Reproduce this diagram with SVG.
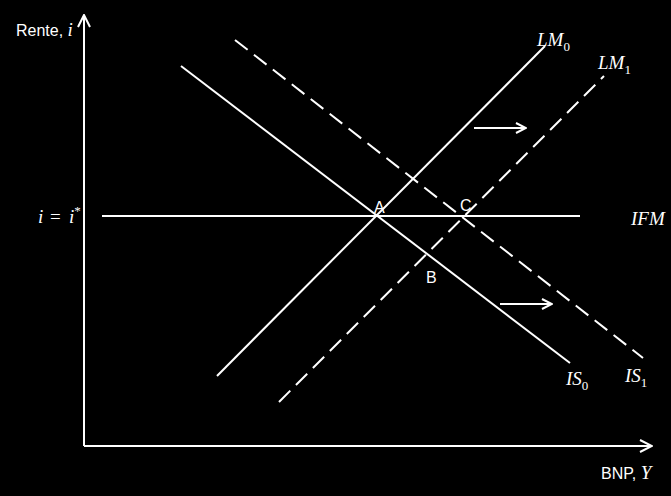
<svg xmlns="http://www.w3.org/2000/svg" width="671" height="496" viewBox="0 0 671 496">
<defs>
<marker id="open" viewBox="0 0 12 12" refX="11" refY="6" markerWidth="12" markerHeight="12" markerUnits="userSpaceOnUse" orient="auto">
<path d="M1,1 L11,6 L1,11" fill="none" stroke="#fff" stroke-width="2"/>
</marker>
<marker id="open2" viewBox="0 0 14 14" refX="13" refY="7" markerWidth="14" markerHeight="14" markerUnits="userSpaceOnUse" orient="auto">
<path d="M1,1 L13,7 L1,13" fill="none" stroke="#fff" stroke-width="2"/>
</marker>
</defs>
<style>
.ln{stroke:#fff;stroke-width:2;fill:none}
.dash{stroke-dasharray:16 8}
.t{fill:#fff;font-family:"Liberation Sans","DejaVu Sans",sans-serif;font-size:16px}
.m{fill:#fff;font-family:"Liberation Serif","DejaVu Serif",serif;font-style:italic;font-size:19px}
.s{font-style:normal;font-size:13px}
</style>
<rect width="671" height="496" fill="#000"/>
<g id="connectors">
<line id="y-axis" class="ln" x1="84" y1="446" x2="84" y2="15" marker-end="url(#open2)"/>
<line id="x-axis" class="ln" x1="84" y1="446" x2="652" y2="446" marker-end="url(#open2)"/>
<line id="IFM-line" class="ln" x1="102" y1="216" x2="580" y2="216"/>
<line id="LM0-line" class="ln" x1="217" y1="376" x2="545" y2="46"/>
<line id="LM1-line" class="ln dash" x1="279" y1="402" x2="604" y2="76"/>
<line id="IS0-line" class="ln" x1="181" y1="66" x2="570" y2="363"/>
<line id="IS1-line" class="ln dash" x1="235" y1="40" x2="643" y2="358"/>
<line id="shift-LM" class="ln" x1="474" y1="128" x2="526" y2="128" marker-end="url(#open)"/>
<line id="shift-IS" class="ln" x1="500" y1="304" x2="552" y2="304" marker-end="url(#open)"/>
</g>
<g id="label-rente"><text class="t" x="16" y="36">Rente, <tspan class="m">i</tspan></text></g>
<g id="label-bnp"><text class="t" x="601" y="479">BNP, <tspan class="m">Y</tspan></text></g>
<g id="label-istar"><text class="m" x="38" y="223">i<tspan x="50" style="font-style:normal">=</tspan><tspan x="69">i</tspan><tspan class="s" dy="-8">*</tspan></text></g>
<g id="label-IFM"><text class="m" x="631" y="225">IFM</text></g>
<g id="label-LM0"><text class="m" x="537" y="46">LM<tspan class="s" dy="5">0</tspan></text></g>
<g id="label-LM1"><text class="m" x="598" y="69">LM<tspan class="s" dy="5">1</tspan></text></g>
<g id="label-IS0"><text class="m" x="566" y="385">IS<tspan class="s" dy="5">0</tspan></text></g>
<g id="label-IS1"><text class="m" x="625" y="382">IS<tspan class="s" dy="5">1</tspan></text></g>
<g id="point-A"><text class="t" x="374" y="213">A</text></g>
<g id="point-C"><text class="t" x="460" y="211">C</text></g>
<g id="point-B"><text class="t" x="426" y="283">B</text></g>
</svg>
